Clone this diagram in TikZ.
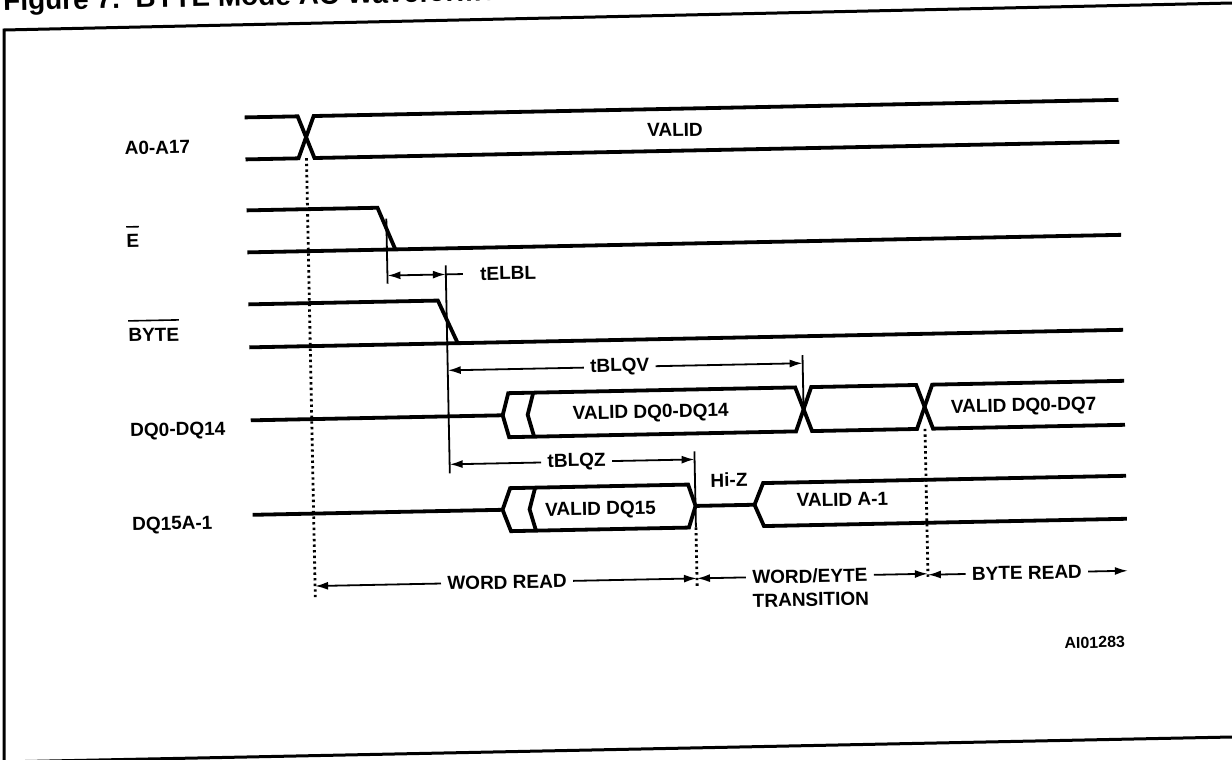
\documentclass[tikz,border=0pt]{standalone}
\usepackage{fontspec}
\setmainfont{Liberation Sans}
\usetikzlibrary{arrows.meta,calc}
\newcommand{\sigbar}[1]{\vbox{\hrule height 0.8pt\kern 3.5pt\hbox{#1}}}

\begin{document}
\begin{tikzpicture}[x=0.5pt,y=-0.5pt,
  sig/.style={line width=1.9pt,line join=miter},
  dim/.style={line width=0.9pt},
  dimarr/.style={dim,-{Latex[length=6.5pt,width=4pt]}},
  guide/.style={line width=1.4pt,dash pattern=on 1.2pt off 1.6pt},
  lbl/.style={font=\fontsize{9.5}{11.5}\selectfont\bfseries,inner sep=0pt},
  dlbl/.style={lbl,inner sep=3pt},
  frame/.style={line width=1.5pt}]
\useasboundingbox (0,0) rectangle (1232,760);

\node[font=\fontsize{14}{16}\selectfont\bfseries,anchor=base west,inner sep=0pt,rotate=1.15] (title) at (3,10.5) {Figure 7.\ \ BYTE Mode AC Waveforms};
\draw[frame] (4,762) -- (4,30) -- (1232,3);
\draw[frame] (0,762) -- (1232,737);

\begin{scope}[rotate around={1.15:(616,380)},transform shape]
\coordinate (tA) at (311,152);
\coordinate (tE) at (389.6,214);
\coordinate (tB) at (448,262);
\coordinate (tZ) at (693,453);
\coordinate (tV) at (803,359);
\coordinate (tD) at (924,435);
\coordinate (xend) at (1124,581);

\node[lbl,anchor=base west] (nA) at (129,145) {A0-A17};
\node[lbl,anchor=base west] (nE) at (129,238) {\sigbar{E}};
\node[lbl,anchor=base west] (nB) at (129,332) {\sigbar{BYTE}};
\node[lbl,anchor=base west] (nD) at (129,427) {DQ0-DQ14};
\node[lbl,anchor=base west] (nQ) at (129,521) {DQ15A-1};

\draw[sig] (250,110) -- (303,110) -- (319,152) -- (1124,152);
\draw[sig] (250,152) -- (303,152) -- (319,110) -- (1124,110);
\node[lbl] (vA) at (680,131) {VALID};

\draw[sig] (250,203) -- (381,203) -- (398,245);
\draw[sig] (250,245) -- (1124,245);

\draw[sig] (250,297) -- (439.5,297) -- (458.5,340);
\draw[sig] (250,340) -- (1124,340);

\draw[sig] (250,413) -- (502,413) -- (508,391) -- (795,391) -- (811,435) -- (916,435) -- (932,391) -- (1124,391);
\draw[sig] (502,413) -- (508,435) -- (795,435) -- (811,391) -- (916,391) -- (932,435) -- (1124,435);
\draw[sig] (533,391) -- (527,413) -- (533,435);
\node[lbl] (vD) at (650,414) {VALID DQ0-DQ14};
\node[lbl] (vD7) at (1023,415) {VALID DQ0-DQ7};

\draw[sig] (250,507.5) -- (500,507.5) -- (508,486) -- (686,486) -- (693,507.5) -- (686,529) -- (508,529) -- (500,507.5);
\draw[sig] (533,486) -- (527,507.5) -- (533,529);
\draw[sig] (693,507.5) -- (752,507.5) -- (761,486) -- (1124,486);
\draw[sig] (752,507.5) -- (761,529) -- (1124,529);
\node[lbl] (vQ) at (598,510) {VALID DQ15};
\node[lbl] (vQ1) at (840,504) {VALID A-1};
\node[lbl] (hiz) at (727,482) {Hi-Z};

\draw[dim] (tE) -- ++(0,65);
\draw[dim] (tB) -- ++(0,208);
\draw[dim] (tV) -- ++(0,54);
\draw[dim] (tZ) -- ++(0,76);

\node[dlbl,anchor=west] (elbl) at (476,271) {tELBL};
\draw[dim,{Latex[length=6.5pt,width=4pt]}-{Latex[length=6.5pt,width=4pt]}] (tE |- elbl) -- (tB |- elbl);
\draw[dim] (tB |- elbl) -- ++(17,0);

\node[dlbl] (blqv) at (620,367) {tBLQV};
\draw[dimarr] (blqv.west) -- (tB |- blqv);
\draw[dimarr] (blqv.east) -- (tV |- blqv);

\node[dlbl] (blqz) at (575,461) {tBLQZ};
\draw[dimarr] (blqz.west) -- (tB |- blqz);
\draw[dimarr] (blqz.east) -- (tZ |- blqz);

\draw[guide] (tA) -- (311,591);
\draw[guide] (693,529) -- (693,590);
\draw[guide] (tD) -- (924,586);

\node[dlbl] (wr) at (503,580) {WORD READ};
\draw[dimarr] (wr.west) -- (tA |- wr);
\draw[dimarr] (wr.east) -- (tZ |- wr);
\node[dlbl,anchor=west] (wbt) at (742,580) {WORD/EYTE};
\node[lbl,anchor=base west] (trn) at (748,610) {TRANSITION};
\draw[dimarr] (wbt.west) -- (tZ |- wbt);
\draw[dimarr] (wbt.east) -- (tD |- wbt);
\node[dlbl] (br) at (1023,581) {BYTE READ};
\draw[dimarr] (br.west) -- (tD |- br);
\draw[dimarr] (br.east) -- (xend);

\node[font=\fontsize{8}{9}\selectfont\bfseries,anchor=east,inner sep=0pt] (fig) at (1120,652) {AI01283};
\end{scope}
\end{tikzpicture}
\end{document}
